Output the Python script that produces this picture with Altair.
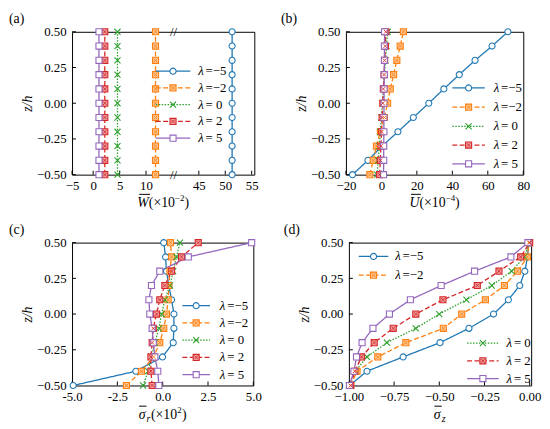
import altair as alt
import pandas as pd

FONT = "Liberation Serif, Times New Roman, serif"

Z = [-0.5, -0.4, -0.3, -0.2, -0.1, 0.0, 0.1, 0.2, 0.3, 0.4, 0.5]
SERIES = ["λ=−5", "λ=−2", "λ=0", "λ=2", "λ=5"]
LEG_REST = ["=−5", "=−2", "= 0", "= 2", "= 5"]
COLORS = ["#1f77b4", "#ff7f0e", "#2ca02c", "#d62728", "#9467bd"]
FILLS = ["#ffffff", "#ffc795", "#ffffff", "#ee9f9f", "#ffffff"]
XPATH = "M-1,-1L1,1M-1,1L1,-1"
SHAPES = ["circle", "square", XPATH, "square", "square"]
DASHES = [[1, 0], [5, 2.5], [1.5, 1.5], [5, 2.5], [1, 0]]
HATCHED = ["λ=−2", "λ=2"]

# (a) W-bar (x10^-2), broken axis
W_VALS = [
    [51.3, 51.3, 51.3, 51.3, 51.3, 51.3, 51.3, 51.3, 51.3, 51.3, 51.3],
    [11.8, 11.8, 11.8, 11.8, 11.8, 11.8, 11.8, 11.8, 11.8, 11.8, 11.8],
    [4.6, 4.6, 4.6, 4.6, 4.6, 4.6, 4.6, 4.6, 4.6, 4.6, 4.6],
    [2.2, 2.2, 2.2, 2.2, 2.2, 2.2, 2.2, 2.2, 2.2, 2.2, 2.2],
    [1.1, 1.1, 1.1, 1.1, 1.1, 1.1, 1.1, 1.1, 1.1, 1.1, 1.1],
]
W_BREAK_LOW = 15.0
W_BREAK_GAP = 25.0
W_TICKS = [-4, 0, 5, 10, 20, 25, 30]

# (b) U-bar (x10^-4)
U_VALS = [
    [-16.3, -7.6, 0.4, 9.3, 18.0, 26.7, 35.2, 43.9, 52.8, 62.4, 71.3],
    [-6.5, -4.6, -2.8, -0.6, 1.7, 3.5, 5.0, 6.9, 8.7, 10.6, 12.4],
    [-2.4, -1.8, -1.2, -0.6, 0.0, 0.5, 1.1, 1.7, 2.3, 2.9, 3.5],
    [-1.0, -0.6, -0.3, 0.1, 0.4, 0.8, 1.1, 1.5, 1.8, 2.2, 2.5],
    [1.2, 1.3, 1.3, 1.4, 1.4, 1.5, 1.5, 1.6, 1.7, 1.7, 1.8],
]
U_TICKS = [-20, 0, 20, 40, 60, 80]

# (c) sigma_r (x10^2)
SR_VALS = [
    [-4.94, -1.48, -0.01, 0.58, 0.62, 0.62, 0.49, 0.34, 0.21, 0.16, 0.06],
    [-2.0, -1.17, -0.5, -0.16, 0.06, 0.21, 0.30, 0.34, 0.40, 0.49, 0.43],
    [-1.08, -0.80, -0.62, -0.43, -0.21, -0.06, 0.12, 0.40, 0.58, 0.76, 0.95],
    [-0.58, -0.65, -0.65, -0.58, -0.52, -0.34, -0.16, 0.12, 0.49, 1.04, 1.96],
    [-0.21, -0.27, -0.43, -0.52, -0.58, -0.71, -0.76, -0.62, -0.16, 1.41, 4.91],
]
SR_TICKS = [-5.0, -2.5, 0.0, 2.5, 5.0]

# (d) sigma_z
SZ_VALS = [
    [-0.996, -0.90, -0.70, -0.496, -0.336, -0.20, -0.118, -0.055, -0.027, -0.012, -0.005],
    [-0.99, -0.955, -0.84, -0.685, -0.478, -0.376, -0.245, -0.14, -0.067, -0.013, -0.004],
    [-1.0, -0.965, -0.90, -0.79, -0.63, -0.50, -0.35, -0.21, -0.10, -0.03, 0.0],
    [-0.99, -0.967, -0.93, -0.86, -0.755, -0.63, -0.48, -0.29, -0.17, -0.05, 0.0],
    [-0.997, -0.972, -0.958, -0.927, -0.867, -0.776, -0.66, -0.49, -0.305, -0.104, -0.01],
]
SZ_TICKS = [-1.0, -0.75, -0.5, -0.25, 0.0]

Y_TICKS = [-0.5, -0.25, 0.0, 0.25, 0.5]
PH = 145  # plot height in px
TICK_PX = 4


def make_df(vals, mapper=None):
    rows = []
    for s, vs in zip(SERIES, vals):
        for z, v in zip(Z, vs):
            rows.append({"s": s, "z": z, "v": mapper(v) if mapper else v})
    return pd.DataFrame(rows)


def sc(rng):
    return alt.Scale(domain=SERIES, range=rng)


def panel(tag, tag_x, vals, domain, width, xticks, xlabel_expr, legend_spec,
          title_pieces, overline, mapper=None, extra_layers=None):
    d0, d1 = domain
    ppx = (d1 - d0) / width  # data units per px
    ppy = 1.0 / PH
    xs = alt.Scale(domain=domain, nice=False, zero=False)
    ys = alt.Scale(domain=[-0.5, 0.5], nice=False, zero=False)
    xaxis = alt.Axis(values=xticks, labelExpr=xlabel_expr, title=None, grid=False,
                     ticks=False, domain=False, labelPadding=5, labelFlush=False,
                     labelOverlap=False)
    yaxis = alt.Axis(values=Y_TICKS, format=".2f", title="z/h", grid=False,
                     ticks=False, domain=False, labelPadding=6, titleFontStyle="italic",
                     titlePadding=2, labelOverlap=False)

    def X(f):
        return alt.X(f, type="quantitative", scale=xs, axis=xaxis)

    def Y(f):
        return alt.Y(f, type="quantitative", scale=ys, axis=yaxis)

    color = alt.Color("s:N", scale=sc(COLORS), legend=None)
    stroke = alt.Stroke("s:N", scale=sc(COLORS), legend=None)
    fill = alt.Fill("s:N", scale=sc(FILLS), legend=None)
    shape = alt.Shape("s:N", scale=sc(SHAPES), legend=None)
    dash = alt.StrokeDash("s:N", scale=sc(DASHES), legend=None)

    df = make_df(vals, mapper)
    layers = []
    # inward ticks
    xt = pd.DataFrame({"v": xticks, "z0": [-0.5] * len(xticks),
                       "z1": [-0.5 + TICK_PX * ppy] * len(xticks)})
    layers.append(alt.Chart(xt).mark_rule(color="black", strokeWidth=1).encode(
        x=X("v"), y=Y("z0"), y2="z1:Q"))
    yt = pd.DataFrame({"z": Y_TICKS, "v0": [d0] * len(Y_TICKS),
                       "v1": [d0 + TICK_PX * ppx] * len(Y_TICKS)})
    layers.append(alt.Chart(yt).mark_rule(color="black", strokeWidth=1).encode(
        x=X("v0"), x2="v1:Q", y=Y("z")))

    layers.append(alt.Chart(df).mark_line(strokeWidth=1.3).encode(
        x=X("v"), y=Y("z"), color=color, strokeDash=dash,
        order=alt.Order("z:Q"), detail="s:N"))
    layers.append(alt.Chart(df).mark_point(filled=False, opacity=1, size=38, strokeWidth=1.1).encode(
        x=X("v"), y=Y("z"), stroke=stroke, fill=fill, shape=shape))
    layers.append(alt.Chart(df).transform_filter(
        alt.FieldOneOfPredicate(field="s", oneOf=HATCHED)).mark_point(
        filled=False, opacity=1, size=14, strokeWidth=0.9, shape=XPATH).encode(
        x=X("v"), y=Y("z"), stroke=stroke))

    # legend (in plot, built from series lists + layout px)
    lrows = []
    for idx, x1, x2, xl, py in legend_spec:
        lrows.append({
            "s": SERIES[idx],
            "v": d0 + x1 * ppx, "v2": d0 + x2 * ppx, "vm": d0 + (x1 + x2) / 2 * ppx,
            "vt": d0 + xl * ppx, "vt2": d0 + (xl + 7.5) * ppx,
            "z": 0.5 - py * ppy, "lam": "λ", "rest": LEG_REST[idx],
        })
    ldf = pd.DataFrame(lrows)
    layers.append(alt.Chart(ldf).mark_rule(strokeWidth=1.3).encode(
        x=X("v"), x2="v2:Q", y=Y("z"), color=color, strokeDash=dash))
    layers.append(alt.Chart(ldf).mark_point(filled=False, opacity=1, size=38, strokeWidth=1.1).encode(
        x=X("vm"), y=Y("z"), stroke=stroke, fill=fill, shape=shape))
    layers.append(alt.Chart(ldf).transform_filter(
        alt.FieldOneOfPredicate(field="s", oneOf=HATCHED)).mark_point(
        filled=False, opacity=1, size=14, strokeWidth=0.9, shape=XPATH).encode(
        x=X("vm"), y=Y("z"), stroke=stroke))
    layers.append(alt.Chart(ldf).mark_text(align="left", baseline="middle", font=FONT,
                                           fontSize=13, fontStyle="italic", color="black").encode(
        x=X("vt"), y=Y("z"), text="lam:N"))
    layers.append(alt.Chart(ldf).mark_text(align="left", baseline="middle", font=FONT,
                                           fontSize=13, color="black").encode(
        x=X("vt2"), y=Y("z"), text="rest:N"))

    if extra_layers:
        layers += extra_layers(X, Y)

    # x-axis title built from pieces
    cx, ty = title_pieces["center"], title_pieces["y"]
    total = sum(p[1] for p in title_pieces["pieces"])
    xcur = cx - total / 2
    first_x = xcur
    for text, w, dy, size, style in title_pieces["pieces"]:
        layers.append(alt.Chart(pd.DataFrame({"t": [text]})).mark_text(
            align="left", baseline="middle", font=FONT, fontSize=size,
            fontStyle=style, color="black").encode(
            x=alt.value(xcur), y=alt.value(ty + dy), text="t:N"))
        xcur += w
    ox1, ox2, oy = overline
    layers.append(alt.Chart(pd.DataFrame({"t": [0]})).mark_rule(
        color="black", strokeWidth=1).encode(
        x=alt.value(first_x + ox1), x2=alt.value(first_x + ox2), y=alt.value(ty + oy)))

    # panel tag
    layers.append(alt.Chart(pd.DataFrame({"t": [tag]})).mark_text(
        align="left", baseline="middle", font=FONT, fontSize=14, color="black").encode(
        x=alt.value(tag_x), y=alt.value(-13), text="t:N"))

    return alt.layer(*layers).properties(width=width, height=PH)


def w_map(v):
    return v if v < W_BREAK_LOW else v - W_BREAK_GAP


def w_extra(X, Y):
    bd = pd.DataFrame({"v": [W_BREAK_LOW + 0.2, W_BREAK_LOW + 0.2], "z": [0.5, -0.5],
                       "t": ["//", "//"]})
    return [alt.Chart(bd).mark_text(font=FONT, fontSize=13, baseline="middle",
                                    align="center", color="black").encode(
        x=X("v"), y=Y("z"), text="t:N")]


W_LABEL = ("datum.value < -3 ? '−5' : (datum.value > 15 ? format(datum.value + 25, 'd') "
           ": format(datum.value, 'd'))")

A = panel("(a)", -64, W_VALS, [-4.0, 30.5], 185, W_TICKS, W_LABEL,
          [(0, 85, 120, 128, 40), (1, 85, 120, 128, 57), (2, 85, 120, 128, 74),
           (3, 85, 120, 128, 91), (4, 85, 120, 128, 108)],
          {"center": 92.5, "y": 174, "pieces": [("W", 11.7, 0, 14, "italic"),
                                                 ("(×10", 26.6, 0, 14, "normal"),
                                                 ("−2", 9.6, -5, 9, "normal"),
                                                 (")", 4.7, 0, 14, "normal")]},
          (2, 13, -9), mapper=w_map, extra_layers=w_extra)

B = panel("(b)", -66, U_VALS, [-20, 80], 180, U_TICKS, "format(datum.value, 'd')",
          [(0, 108, 141, 150, 57), (1, 108, 141, 150, 76.5), (2, 108, 141, 150, 96),
           (3, 108, 141, 150, 115), (4, 108, 141, 150, 134)],
          {"center": 90, "y": 174, "pieces": [("U", 10.1, 0, 14, "italic"),
                                               ("(×10", 26.6, 0, 14, "normal"),
                                               ("−4", 9.6, -5, 9, "normal"),
                                               (")", 4.7, 0, 14, "normal")]},
          (1.5, 11.5, -9))

C = panel("(c)", -64, SR_VALS, [-5, 5], 184, SR_TICKS,
          "replace(format(datum.value, '.1f'), '−', '-')",
          [(0, 112, 140, 150, 64), (1, 112, 140, 150, 81.5), (2, 112, 140, 150, 99),
           (3, 112, 140, 150, 116.5), (4, 112, 140, 150, 134)],
          {"center": 92, "y": 175, "pieces": [("σ", 8, 0, 14, "italic"),
                                               ("r", 4.5, 4, 10, "italic"),
                                               ("(×10", 26.6, 0, 14, "normal"),
                                               ("2", 5, -5, 9, "normal"),
                                               (")", 4.7, 0, 14, "normal")]},
          (0.5, 8, -9))

D = panel("(d)", -66, SZ_VALS, [-1.0, 0.008], 185, SZ_TICKS, "format(datum.value, '.2f')",
          [(0, 10, 40, 47, 14), (1, 10, 40, 47, 33),
           (2, 120, 152, 160, 102), (3, 120, 152, 160, 120), (4, 120, 152, 160, 138)],
          {"center": 92.5, "y": 175, "pieces": [("σ", 8, 0, 14, "italic"),
                                                 ("z", 4.5, 4, 10, "italic")]},
          (0.5, 8, -9))

chart = alt.vconcat(
    alt.hconcat(A, B, spacing=21),
    alt.hconcat(C, D, spacing=21),
    spacing=11,
).properties(
    padding={"left": 0, "top": 0, "right": 0, "bottom": 0},
    background="white",
).configure_view(
    stroke="black", strokeWidth=1
).configure_axis(
    labelFont=FONT, labelFontSize=13, labelColor="black",
    titleFont=FONT, titleFontSize=14, titleColor="black", titleFontWeight="normal"
)

chart.save("out.html", embed_options={"renderer": "svg", "actions": False})
